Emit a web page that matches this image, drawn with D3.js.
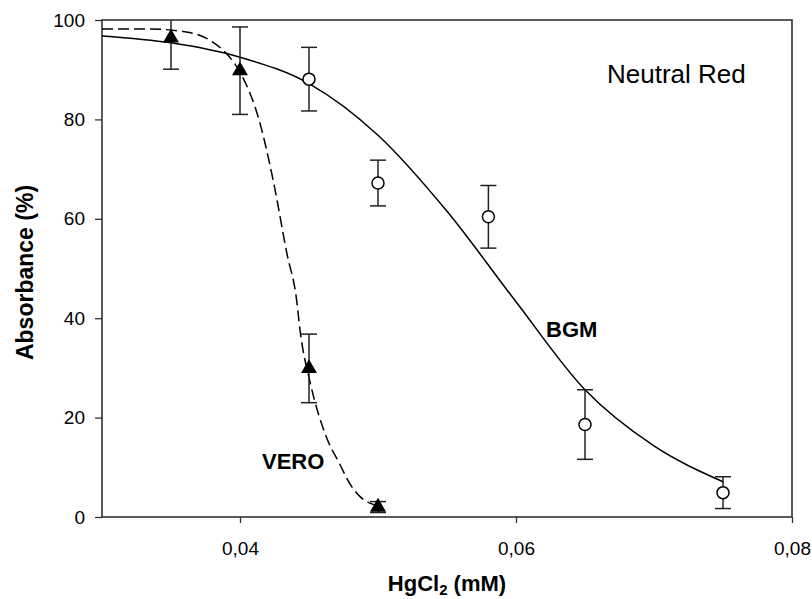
<!DOCTYPE html>
<html>
<head>
<meta charset="utf-8">
<script src="https://cdn.jsdelivr.net/npm/d3@7"></script>
<style>
  body { margin: 0; background: #fff; }
  svg { font-family: "Liberation Sans", Arial, sans-serif; }
</style>
</head>
<body>
<div id="chart"></div>
<script>
var veroX = [0.035, 0.040, 0.045, 0.050];
var veroY = [96.4, 89.8, 29.9, 2.0];
var veroErr = [6.3, 8.8, 6.9, 1.1];

var bgmX = [0.045, 0.050, 0.058, 0.065, 0.075];
var bgmY = [88.1, 67.2, 60.4, 18.6, 4.9];
var bgmErr = [6.4, 4.6, 6.3, 7.0, 3.2];

// fitted curves, sampled from the figure
var bgmFitX = [0.030, 0.035, 0.040, 0.045, 0.050, 0.055, 0.060, 0.065, 0.070, 0.075];
var bgmFitY = [96.8, 95.4, 92.5, 87.2, 76.8, 61.5, 43.3, 25.6, 14.3, 7.1];

var veroFitX = [0.030, 0.0333, 0.0361, 0.0380, 0.0391, 0.0400, 0.04145, 0.0424, 0.0434, 0.0441, 0.04435, 0.0451, 0.0463, 0.0472, 0.0480, 0.0487, 0.0494, 0.0500];
var veroFitY = [98.2, 98.2, 97.6, 95.6, 93.0, 89.5, 79.2, 67.8, 53.0, 43.7, 37.6, 26.9, 15.8, 10.8, 6.5, 4.1, 2.8, 2.3];

var xTicks = [0.04, 0.06, 0.08];
var yTicks = [0, 20, 40, 60, 80, 100];

function drawChart() {
  var width = 812, height = 599;
  var margin = {left: 102, right: 792, top: 20, bottom: 517};

  var svg = d3.select("#chart").append("svg")
    .attr("width", width)
    .attr("height", height);

  var x = d3.scaleLinear().domain([0.03, 0.08]).range([margin.left, margin.right]);
  var y = d3.scaleLinear().domain([0, 100]).range([margin.bottom, margin.top]);

  svg.append("clipPath").attr("id", "plot")
    .append("rect")
    .attr("x", margin.left).attr("y", margin.top)
    .attr("width", margin.right - margin.left).attr("height", margin.bottom - margin.top);

  // axes
  var xAxis = svg.append("g")
    .attr("transform", "translate(0," + margin.bottom + ")")
    .call(d3.axisBottom(x).tickValues(xTicks).tickSize(6).tickSizeOuter(0)
      .tickFormat(function(d) { return d3.format(".2f")(d).replace(".", ","); }));
  xAxis.select(".domain").remove();
  xAxis.selectAll("text").attr("dy", "1.55em").style("font-size", "19px").attr("fill", "#000");
  xAxis.selectAll("line").attr("stroke", "#333").attr("stroke-width", 1.3);

  var yAxis = svg.append("g")
    .attr("transform", "translate(" + margin.left + ",0)")
    .call(d3.axisLeft(y).tickValues(yTicks).tickSize(7).tickSizeOuter(0));
  yAxis.select(".domain").remove();
  yAxis.selectAll("text").attr("x", -17).style("font-size", "19px").attr("fill", "#000");
  yAxis.selectAll("line").attr("stroke", "#333").attr("stroke-width", 1.3);

  // frame
  svg.append("rect")
    .attr("x", margin.left).attr("y", margin.top)
    .attr("width", margin.right - margin.left).attr("height", margin.bottom - margin.top)
    .attr("fill", "none")
    .attr("stroke", "#333")
    .attr("stroke-width", 1.6);

  var plot = svg.append("g").attr("clip-path", "url(#plot)");

  var line = d3.line()
    .x(function(d) { return x(d[0]); })
    .y(function(d) { return y(d[1]); })
    .curve(d3.curveMonotoneX);

  plot.append("path")
    .datum(d3.zip(bgmFitX, bgmFitY))
    .attr("d", line)
    .attr("fill", "none")
    .attr("stroke", "#000")
    .attr("stroke-width", 1.5);

  plot.append("path")
    .datum(d3.zip(veroFitX, veroFitY))
    .attr("d", line)
    .attr("fill", "none")
    .attr("stroke", "#000")
    .attr("stroke-width", 1.5)
    .attr("stroke-dasharray", "11,5");

  // error bars
  function errorBars(xs, ys, es) {
    var g = plot.append("g").attr("stroke", "#222").attr("stroke-width", 1.5);
    xs.forEach(function(xv, i) {
      var hi = ys[i] + es[i], lo = ys[i] - es[i];
      g.append("line")
        .attr("x1", x(xv)).attr("x2", x(xv))
        .attr("y1", y(hi)).attr("y2", y(lo));
      [hi, lo].forEach(function(v) {
        g.append("line")
          .attr("x1", x(xv) - 8).attr("x2", x(xv) + 8)
          .attr("y1", y(v)).attr("y2", y(v));
      });
    });
  }
  errorBars(veroX, veroY, veroErr);
  errorBars(bgmX, bgmY, bgmErr);

  // markers
  svg.append("g").selectAll("path")
    .data(d3.zip(veroX, veroY))
    .enter().append("path")
    .attr("d", d3.symbol().type(d3.symbolTriangle).size(110))
    .attr("transform", function(d) { return "translate(" + x(d[0]) + "," + y(d[1]) + ")"; })
    .attr("fill", "#000");

  svg.append("g").selectAll("circle")
    .data(d3.zip(bgmX, bgmY))
    .enter().append("circle")
    .attr("cx", function(d) { return x(d[0]); })
    .attr("cy", function(d) { return y(d[1]); })
    .attr("r", 6)
    .attr("fill", "#fff")
    .attr("stroke", "#000")
    .attr("stroke-width", 1.5);

  // labels
  svg.append("text")
    .attr("x", 607).attr("y", 83)
    .style("font-size", "26px")
    .text("Neutral Red");

  svg.append("text")
    .attr("x", 546).attr("y", 337)
    .style("font-size", "22px").style("font-weight", "bold")
    .text("BGM");

  svg.append("text")
    .attr("x", 262).attr("y", 469)
    .style("font-size", "22px").style("font-weight", "bold")
    .text("VERO");

  var xt = svg.append("text")
    .attr("x", (margin.left + margin.right) / 2).attr("y", 591)
    .attr("text-anchor", "middle")
    .style("font-size", "22px").style("font-weight", "bold");
  xt.append("tspan").text("HgCl");
  xt.append("tspan").attr("dy", 4).style("font-size", "15px").text("2");
  xt.append("tspan").attr("dy", -4).text(" (mM)");

  svg.append("text")
    .attr("transform", "translate(33," + ((margin.top + margin.bottom) / 2 + 4) + ") rotate(-90)")
    .attr("text-anchor", "middle")
    .style("font-size", "23px").style("font-weight", "bold")
    .text("Absorbance (%)");
}

drawChart();
</script>
</body>
</html>
